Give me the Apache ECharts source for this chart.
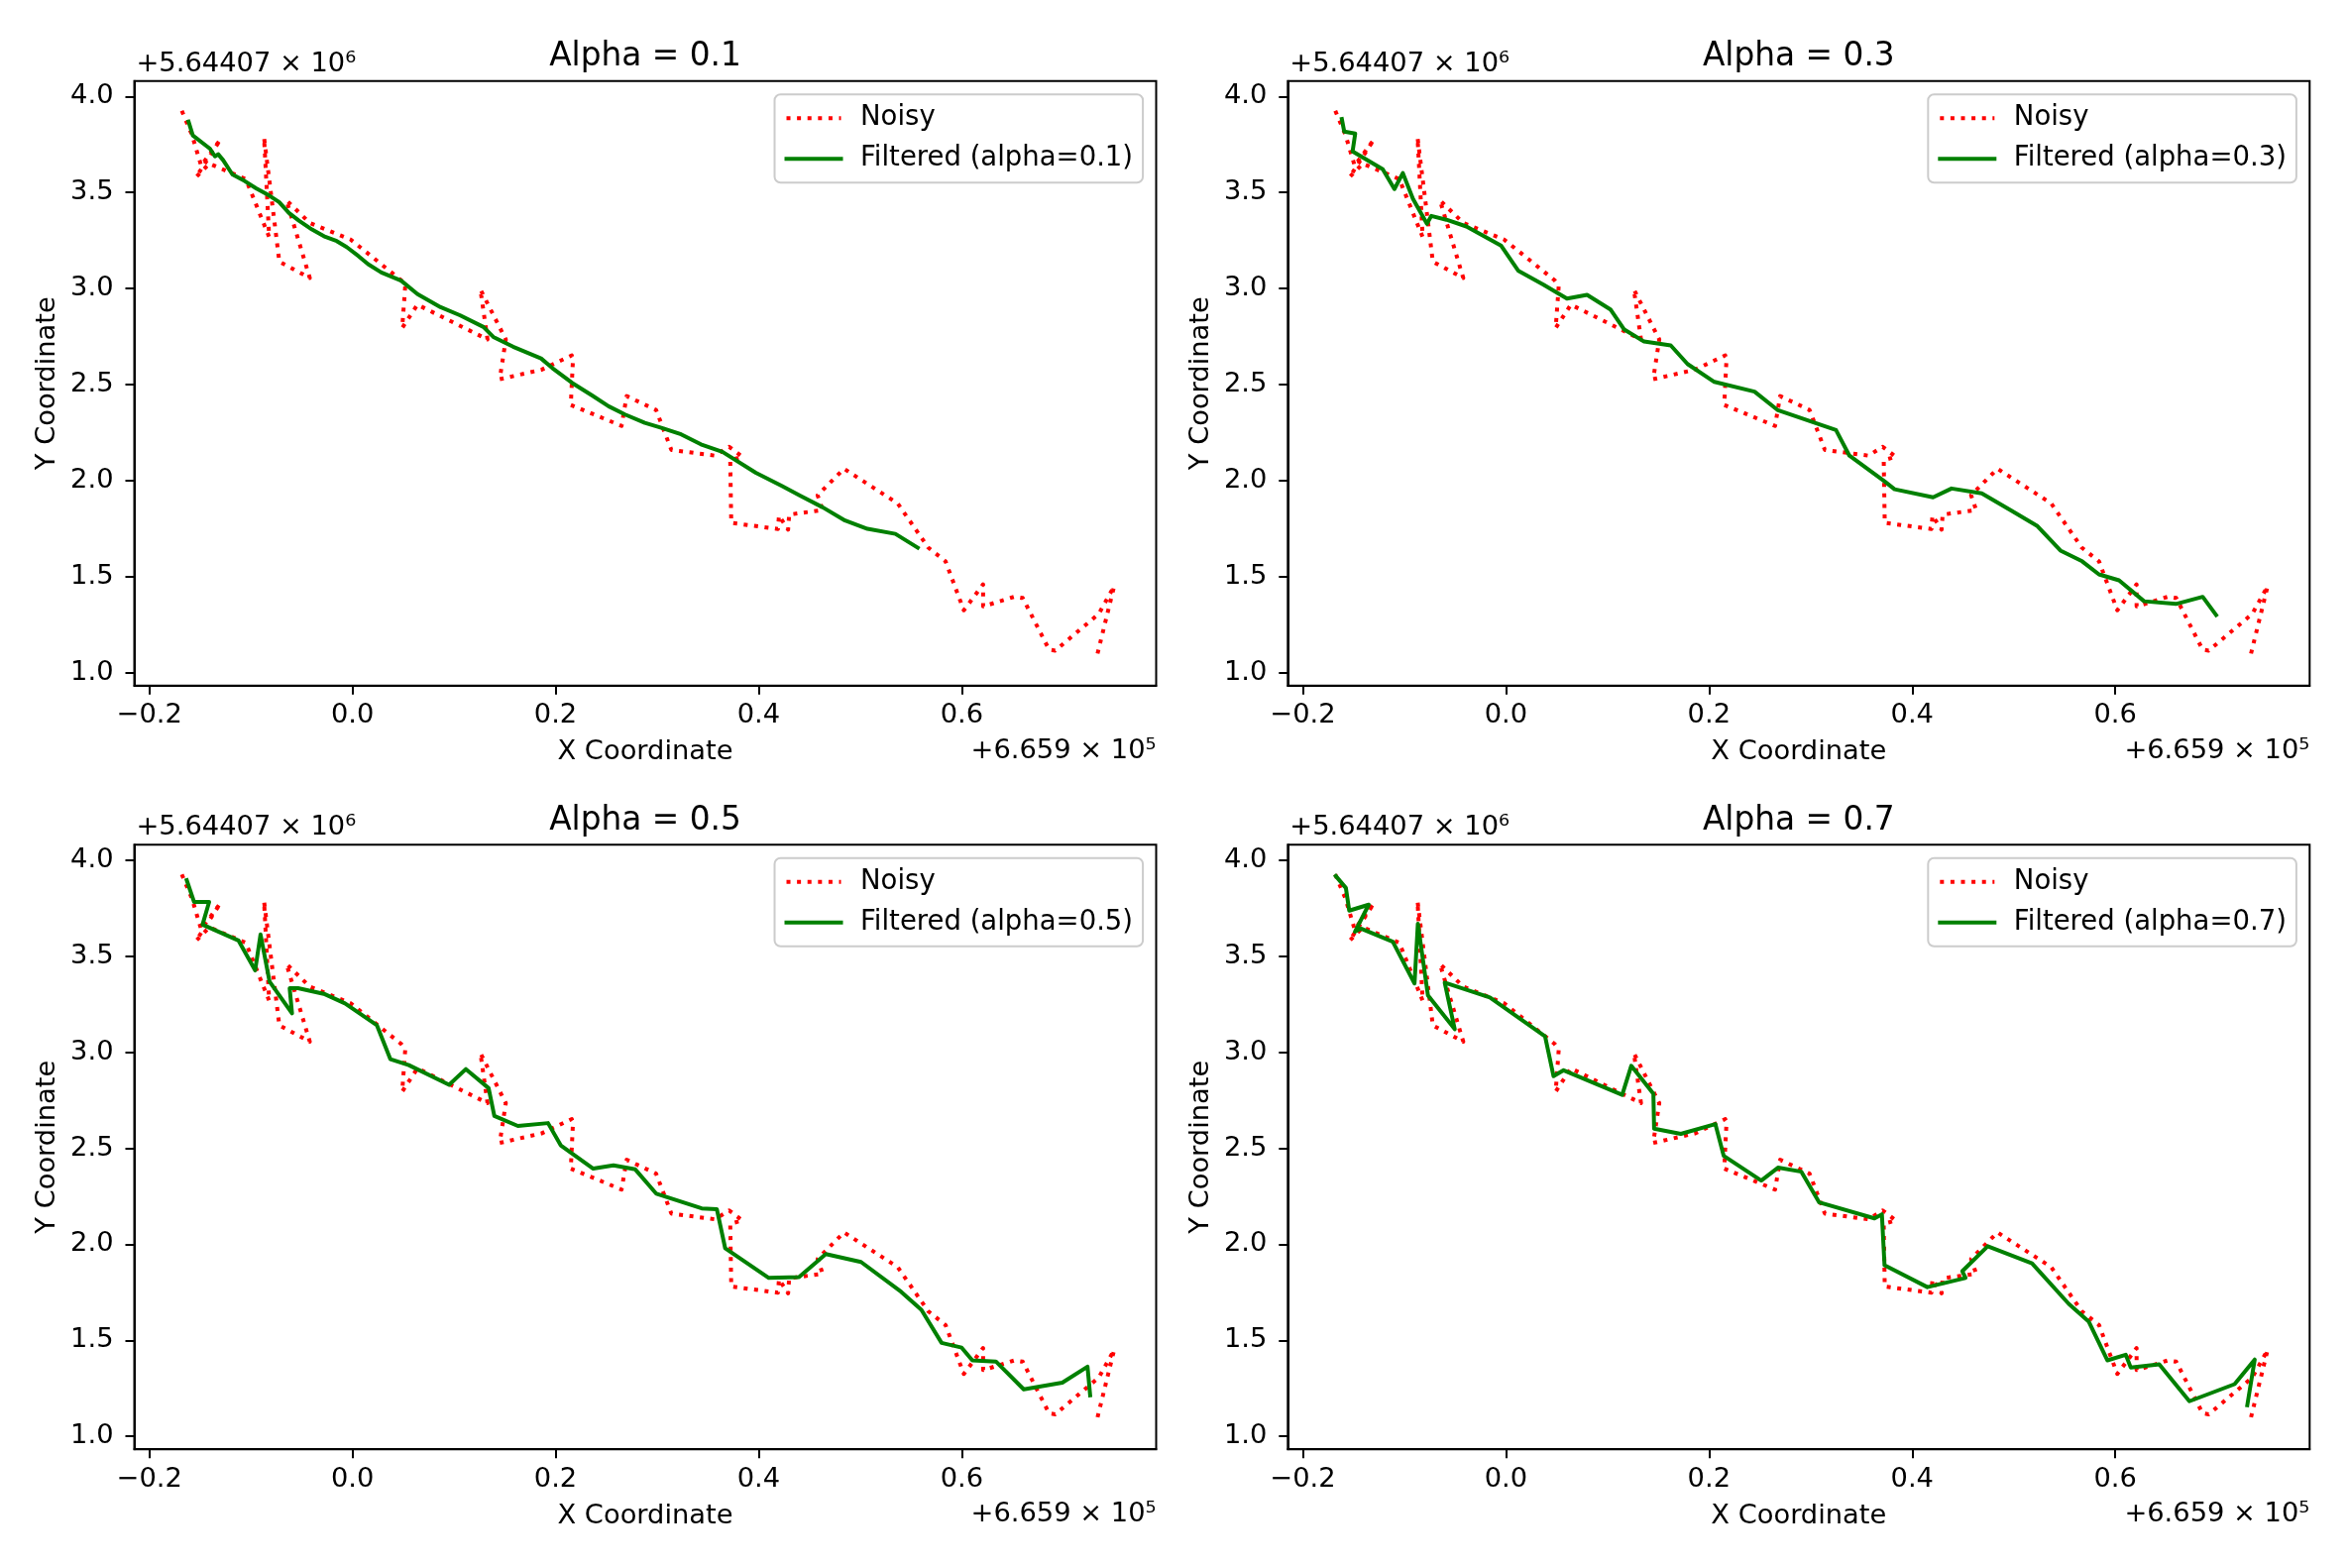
<!DOCTYPE html>
<html><head><meta charset="utf-8">
<script src="https://cdn.jsdelivr.net/npm/echarts@6/dist/echarts.min.js"></script>
<style>html,body{margin:0;padding:0;background:#fff;}#c{width:2370px;height:1582px;}</style>
</head><body><div id="c"></div>
<script>
const alphas = [0.1, 0.3, 0.5, 0.7];
const xTicks = [-0.2, 0.0, 0.2, 0.4, 0.6];
const yTicks = [1.0, 1.5, 2.0, 2.5, 3.0, 3.5, 4.0];
const yOffsetText = '+5.64407 \u00d7 10\u2076';
const xOffsetText = '+6.659 \u00d7 10\u2075';

const noisy = [
 [-0.168,3.925],[-0.158,3.800],[-0.149,3.640],[-0.130,3.776],[-0.154,3.580],[-0.141,3.650],
 [-0.105,3.570],[-0.082,3.268],[-0.087,3.785],[-0.075,3.270],[-0.072,3.140],[-0.042,3.055],
 [-0.065,3.460],[-0.042,3.341],[-0.002,3.256],[0.048,3.043],[0.052,3.014],[0.049,2.795],
 [0.064,2.916],[0.133,2.735],[0.126,2.995],[0.151,2.735],[0.145,2.528],[0.186,2.577],
 [0.216,2.652],[0.217,2.615],[0.215,2.394],[0.265,2.285],[0.270,2.440],[0.299,2.368],
 [0.314,2.160],[0.357,2.130],[0.371,2.176],[0.384,2.124],[0.372,2.107],[0.373,1.780],
 [0.419,1.748],[0.420,1.818],[0.429,1.745],[0.430,1.823],[0.463,1.847],[0.458,1.924],
 [0.484,2.062],[0.537,1.881],[0.567,1.651],[0.584,1.580],[0.602,1.325],[0.621,1.460],
 [0.621,1.345],[0.652,1.396],[0.660,1.389],[0.686,1.120],[0.692,1.115],[0.735,1.307],
 [0.750,1.450],[0.733,1.085]
];
const filtered01 = [
 [-0.1614,3.869],[-0.1572,3.797],[-0.1403,3.728],[-0.1354,3.688],[-0.1322,3.699],[-0.1273,3.668],
 [-0.1182,3.594],[-0.1062,3.560],[-0.0949,3.522],[-0.0819,3.484],[-0.0722,3.450],[-0.0625,3.393],
 [-0.0527,3.353],[-0.0398,3.307],[-0.0268,3.269],[-0.0155,3.247],[-0.0057,3.216],[0.0057,3.170],
 [0.0154,3.127],[0.0284,3.084],[0.0479,3.041],[0.0641,2.971],[0.0868,2.903],[0.1062,2.860],
 [0.1290,2.800],[0.1387,2.748],[0.1582,2.697],[0.1857,2.636],[0.1971,2.585],[0.2165,2.508],
 [0.2360,2.443],[0.2522,2.387],[0.2685,2.344],[0.2879,2.301],[0.3041,2.275],[0.3236,2.241],
 [0.3431,2.189],[0.3643,2.150],[0.3972,2.041],[0.4228,1.972],[0.4411,1.921],[0.4631,1.861],
 [0.4851,1.792],[0.5071,1.749],[0.5346,1.723],[0.5566,1.651]
];
const filtered03 = [
 [-0.1616,3.883],[-0.1592,3.817],[-0.1484,3.807],[-0.1510,3.714],[-0.1213,3.621],[-0.1098,3.518],
 [-0.1015,3.601],[-0.0916,3.467],[-0.0778,3.337],[-0.0735,3.378],[-0.0586,3.358],[-0.0389,3.323],
 [-0.0049,3.224],[0.0123,3.092],[0.0370,3.020],[0.0601,2.948],[0.0799,2.967],[0.1029,2.891],
 [0.1162,2.788],[0.1360,2.724],[0.1623,2.704],[0.1788,2.607],[0.2052,2.514],[0.2448,2.463],
 [0.2679,2.366],[0.3250,2.263],[0.3382,2.130],[0.3728,1.996],[0.3827,1.955],[0.4206,1.913],
 [0.4388,1.959],[0.4685,1.934],[0.4982,1.842],[0.5229,1.765],[0.5460,1.636],[0.5674,1.580],
 [0.5839,1.512],[0.6037,1.481],[0.6284,1.372],[0.6598,1.358],[0.6861,1.395],[0.6993,1.300]
];
const filtered05 = [
 [-0.1632,3.896],[-0.1559,3.782],[-0.1411,3.782],[-0.1476,3.664],[-0.1123,3.582],[-0.0958,3.426],
 [-0.0905,3.613],[-0.0816,3.368],[-0.0595,3.202],[-0.0618,3.333],[-0.0536,3.333],[-0.0271,3.302],
 [-0.0073,3.254],[0.0241,3.140],[0.0373,2.964],[0.0555,2.933],[0.0952,2.830],[0.1117,2.912],
 [0.1341,2.813],[0.1397,2.668],[0.1629,2.616],[0.1926,2.631],[0.2051,2.515],[0.2371,2.394],
 [0.2570,2.411],[0.2785,2.390],[0.2993,2.263],[0.3439,2.187],[0.3588,2.183],[0.3670,1.980],
 [0.4100,1.825],[0.4397,1.829],[0.4661,1.949],[0.5008,1.908],[0.5404,1.752],[0.5602,1.659],
 [0.5801,1.487],[0.5999,1.462],[0.6104,1.396],[0.6336,1.390],[0.6610,1.245],[0.6990,1.280],
 [0.7238,1.363],[0.7264,1.214]
];
const filtered07 = [
 [-0.1675,3.917],[-0.1576,3.855],[-0.1543,3.737],[-0.1351,3.768],[-0.1487,3.627],[-0.1427,3.644],
 [-0.1114,3.575],[-0.0900,3.358],[-0.0867,3.669],[-0.0768,3.296],[-0.0504,3.120],[-0.0603,3.362],
 [-0.0158,3.285],[0.0386,3.082],[0.0469,2.875],[0.0568,2.906],[0.1145,2.778],[0.1234,2.929],
 [0.1452,2.784],[0.1459,2.602],[0.1722,2.575],[0.2062,2.626],[0.2144,2.461],[0.2514,2.332],
 [0.2679,2.399],[0.2909,2.378],[0.3085,2.218],[0.3629,2.135],[0.3702,2.156],[0.3728,1.891],
 [0.4150,1.777],[0.4526,1.825],[0.4494,1.860],[0.4744,1.990],[0.5180,1.901],[0.5542,1.690],
 [0.5740,1.597],[0.5922,1.396],[0.6103,1.425],[0.6152,1.359],[0.6433,1.375],[0.6730,1.183],
 [0.7175,1.272],[0.7373,1.400],[0.7300,1.162]
];
const filteredSets = [filtered01, filtered03, filtered05, filtered07];

const FONT = 'DejaVu Sans';
const FS = 27.3;
const W = 1031, H = 610;
const panels = [
  {left:135.5, top:81.7}, {left:1299.3, top:81.7},
  {left:135.5, top:852.2}, {left:1299.3, top:852.2}
];
const fmt = v => (v < 0 ? '\u2212' : '') + Math.abs(v).toFixed(1);

const grid = [], xAxis = [], yAxis = [], series = [], legend = [], graphic = [];
panels.forEach((p, i) => {
  grid.push({left:p.left, top:p.top, width:W, height:H, show:true, borderColor:'#000', borderWidth:2, backgroundColor:'#fff'});
  xAxis.push({
    gridIndex:i, type:'value', min:-0.2148, max:0.7914,
    axisLine:{show:true, onZero:false, lineStyle:{color:'#000', width:2}},
    axisTick:{show:true, customValues:xTicks, length:9, lineStyle:{color:'#000', width:2}},
    axisLabel:{customValues:xTicks, formatter:fmt, fontFamily:FONT, fontSize:FS, color:'#000', margin:17},
    splitLine:{show:false},
    name:'X Coordinate', nameLocation:'middle', nameGap:54,
    nameTextStyle:{fontFamily:FONT, fontSize:FS, color:'#000'}
  });
  yAxis.push({
    gridIndex:i, type:'value', min:0.933, max:4.0805,
    axisLine:{show:true, onZero:false, lineStyle:{color:'#000', width:2}},
    axisTick:{show:true, customValues:yTicks, length:9, lineStyle:{color:'#000', width:2}},
    axisLabel:{customValues:yTicks, formatter:fmt, fontFamily:FONT, fontSize:FS, color:'#000', margin:21},
    splitLine:{show:false},
    name:'Y Coordinate', nameLocation:'middle', nameGap:74,
    nameTextStyle:{fontFamily:FONT, fontSize:FS, color:'#000'}
  });
  const fname = 'Filtered (alpha=' + alphas[i] + ')';
  series.push({
    name:'Noisy', type:'line', xAxisIndex:i, yAxisIndex:i, data:noisy,
    symbol:'none', showSymbol:false, silent:true, animation:false,
    lineStyle:{color:'#ff0000', width:4, type:[4, 6.6], cap:'butt', join:'round'},
    itemStyle:{color:'#ff0000'}, emphasis:{disabled:true}, z:2
  });
  series.push({
    name:fname, type:'line', xAxisIndex:i, yAxisIndex:i, data:filteredSets[i],
    symbol:'none', showSymbol:false, silent:true, animation:false,
    lineStyle:{color:'#008000', width:4, type:'solid', cap:'square', join:'round'},
    itemStyle:{color:'#008000'}, emphasis:{disabled:true}, z:3
  });
  legend.push({
    right:2370 - (p.left + W - 13.4), top:p.top + 13.5, orient:'vertical',
    data:['Noisy', fname], selectedMode:false,
    itemWidth:55, itemHeight:14, itemGap:11, padding:[9,10,9,10],
    borderColor:'#cccccc', borderWidth:2, borderRadius:6,
    backgroundColor:'rgba(255,255,255,0.8)',
    itemStyle:{opacity:0},
    lineStyle:{width:4},
    textStyle:{fontFamily:FONT, fontSize:27.5, color:'#000', lineHeight:30, padding:[0,0,0,14.5]}
  });
  const cx = p.left + W / 2;
  graphic.push({type:'text', x:cx, y:p.top - 24, silent:true,
    style:{text:'Alpha = ' + alphas[i], font:'32.8px "DejaVu Sans"', fill:'#000',
      align:'center', verticalAlign:'middle', textAlign:'center', textVerticalAlign:'middle'}});
  graphic.push({type:'text', x:p.left + 2, y:p.top - 17, silent:true,
    style:{text:yOffsetText, font:FS + 'px "DejaVu Sans"', fill:'#000',
      align:'left', verticalAlign:'middle', textAlign:'left', textVerticalAlign:'middle'}});
  graphic.push({type:'text', x:p.left + W, y:p.top + H + 66, silent:true,
    style:{text:xOffsetText, font:FS + 'px "DejaVu Sans"', fill:'#000',
      align:'right', verticalAlign:'middle', textAlign:'right', textVerticalAlign:'middle'}});
});

const chart = echarts.init(document.getElementById('c'), null, {renderer:'canvas'});
chart.setOption({
  backgroundColor:'#fff', animation:false,
  grid, xAxis, yAxis, series, legend, graphic
});
</script></body></html>
